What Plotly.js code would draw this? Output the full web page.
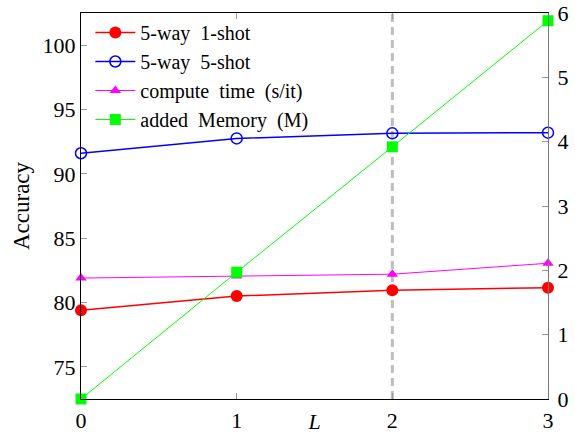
<!DOCTYPE html>
<html>
<head>
<meta charset="utf-8">
<script src="https://cdn.plot.ly/plotly-3.0.1.min.js"></script>
<style>html,body{margin:0;padding:0;background:#fff;}#chart{width:575px;height:434px;}</style>
</head>
<body>
<div id="chart"></div>
<script>
const layersL = [0, 1, 2, 3];
const oneShot = [79.4, 80.5, 80.95, 81.15];
const fiveShot = [91.6, 92.75, 93.15, 93.2];
const computeTime = [1.88, 1.91, 1.94, 2.11];
const addedMemory = [0, 1.97, 3.92, 5.88];
const selectedL = 2;
const leftTicks = [75, 80, 85, 90, 95, 100];
const rightTicks = [0, 1, 2, 3, 4, 5, 6];
const seriesNames = ["5-way 1-shot", "5-way 5-shot", "compute time (s/it)", "added Memory (M)"];

const serif = "Liberation Serif, Times New Roman, serif";
const wide = s => s.split(" ").join("&nbsp; ");

const traces = [
  {x: layersL, y: oneShot, name: wide(seriesNames[0]), type: "scatter", mode: "lines+markers", cliponaxis: false,
   line: {color: "#ff0000", width: 1.5}, marker: {symbol: "circle", size: 12, color: "#ff0000"}},
  {x: layersL, y: fiveShot, name: wide(seriesNames[1]), type: "scatter", mode: "lines+markers", cliponaxis: false,
   line: {color: "#0000ff", width: 1.5}, marker: {symbol: "circle-open", size: 11, color: "#0000ff", line: {width: 1.5}}},
  {x: layersL, y: computeTime, name: wide(seriesNames[2]), yaxis: "y2", type: "scatter", mode: "lines+markers", cliponaxis: false,
   line: {color: "#ff00ff", width: 1}, marker: {symbol: "triangle-up", size: 10, color: "#ff00ff"}},
  {x: layersL, y: addedMemory, name: wide(seriesNames[3]), yaxis: "y2", type: "scatter", mode: "lines+markers", cliponaxis: false,
   line: {color: "#00ff00", width: 1}, marker: {symbol: "square", size: 11, color: "#00ff00"}}
];

const layout = {
  width: 575, height: 434,
  margin: {l: 81, r: 27, t: 13, b: 35},
  paper_bgcolor: "#fff", plot_bgcolor: "#fff",
  font: {family: serif, size: 22, color: "#000"},
  showlegend: true,
  legend: {x: 0.02, y: 1, xanchor: "left", yanchor: "top", bgcolor: "rgba(255,255,255,0)",
           font: {family: serif, size: 20}, tracegroupgap: 0, itemwidth: 40},
  xaxis: {range: [0, 3], tickvals: layersL, ticktext: layersL.map(String), showgrid: false, zeroline: false,
          showline: true, linecolor: "#000", linewidth: 1.2, mirror: "ticks",
          ticks: "inside", ticklen: 6, tickcolor: "#999", tickfont: {size: 22}, ticklabelstandoff: 1,
          title: {text: "<i>L</i>", font: {size: 22}, standoff: 2}},
  yaxis: {range: [72.5, 102.5], tickvals: leftTicks, showgrid: false, zeroline: false,
          showline: true, linecolor: "#000", linewidth: 1.2,
          ticks: "inside", ticklen: 6, tickcolor: "#999", tickfont: {size: 22},
          title: {text: "Accuracy", font: {size: 23}, standoff: 6}},
  yaxis2: {range: [0, 6], tickvals: rightTicks, overlaying: "y", side: "right", showgrid: false, zeroline: false,
           showline: true, linecolor: "#777", linewidth: 1.2,
           ticks: "inside", ticklen: 6, tickcolor: "#999", tickfont: {size: 22}, ticklabelstandoff: 4},
  shapes: [{type: "line", xref: "x", yref: "paper", x0: selectedL, x1: selectedL, y0: 0, y1: 1,
            line: {color: "#bdbdbd", width: 3, dash: "8px,5px"}, layer: "below"}]
};

Plotly.newPlot("chart", traces, layout, {displayModeBar: false, staticPlot: true});
</script>
</body>
</html>
